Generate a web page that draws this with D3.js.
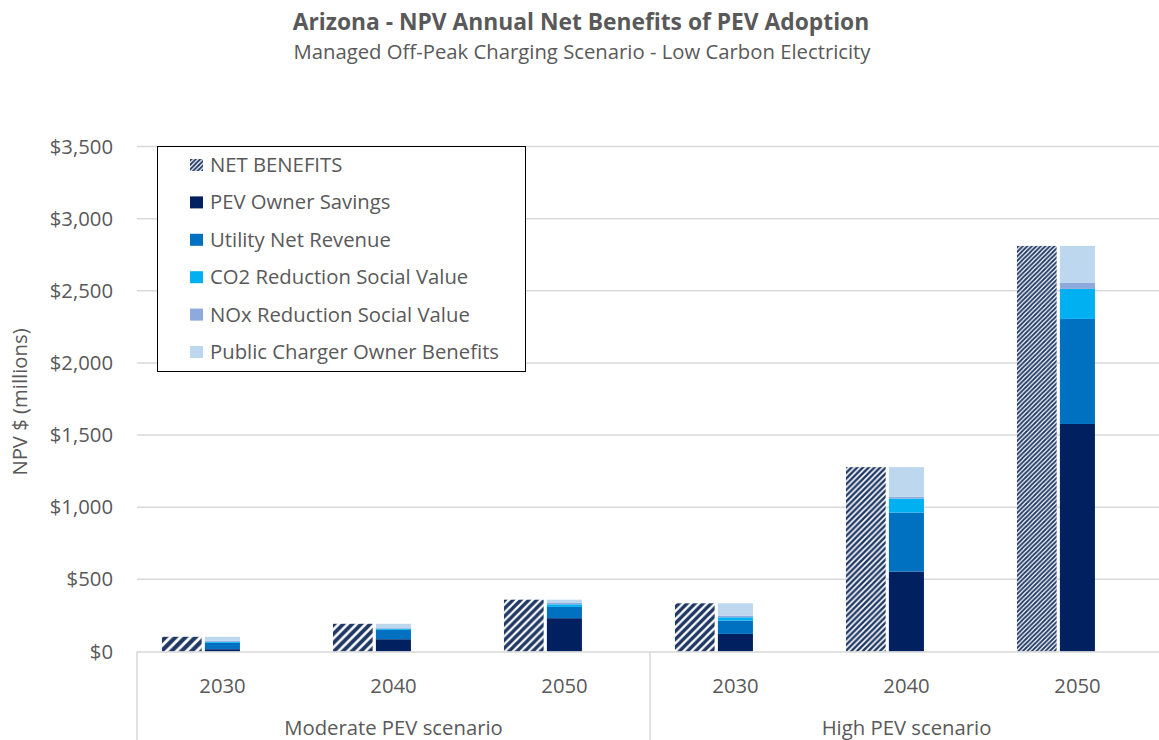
<!DOCTYPE html>
<html>
<head>
<meta charset="utf-8">
<script src="https://cdn.jsdelivr.net/npm/d3@7"></script>
<style>
  body { margin: 0; background: #fff; }
  svg { display: block; font-family: "Open Sans", Lato, sans-serif; }
</style>
</head>
<body>
<svg id="chart" width="1159" height="740"></svg>
<script>
// values (millions of $)
const years = ['2030', '2040', '2050', '2030', '2040', '2050'];
const scenarios = ['Moderate PEV scenario', 'High PEV scenario'];
const netBenefits = [102, 192, 359, 334, 1278, 2811];
const pevOwnerSavings = [16, 85, 231, 122, 554, 1577];
const utilityNetRevenue = [44, 65, 78, 92, 409, 728];
const co2Value = [7, 7, 18, 23, 97, 208];
const noxValue = [7, 5, 9, 12, 12, 44];
const publicCharger = [28, 30, 23, 85, 206, 254];
const yTicks = [0, 500, 1000, 1500, 2000, 2500, 3000, 3500];

const series = [
  { name: 'PEV Owner Savings', values: pevOwnerSavings, color: '#002060' },
  { name: 'Utility Net Revenue', values: utilityNetRevenue, color: '#0070C0' },
  { name: 'CO2 Reduction Social Value', values: co2Value, color: '#00B0F0' },
  { name: 'NOx Reduction Social Value', values: noxValue, color: '#8EA9DB' },
  { name: 'Public Charger Owner Benefits', values: publicCharger, color: '#BDD7EE' }
];

const svg = d3.select('#chart');
const textColor = '#595959';
const gridColor = '#D9D9D9';
const hatchColor = '#1F3864';
const fs = 20.3;
const plotLeft = 137, plotRight = 1163, plotTop = 146.5, baseline = 651.5;

const defs = svg.append('defs');
// diagonal hatch; the reference texture gets finer as the bar gets taller
function addHatch (id, p) {
  const pat = defs.append('pattern')
    .attr('id', id)
    .attr('patternUnits', 'userSpaceOnUse')
    .attr('width', p).attr('height', p);
  pat.append('rect').attr('width', p).attr('height', p).attr('fill', '#fff');
  pat.append('path')
    .attr('d', `M${-p / 4},${p / 4} L${p / 4},${-p / 4} M0,${p} L${p},0 M${p * 0.75},${p * 1.25} L${p * 1.25},${p * 0.75}`)
    .attr('stroke', hatchColor)
    .attr('stroke-width', p * 0.42);
  return `url(#${id})`;
}

// title
svg.append('text')
  .attr('x', 581).attr('y', 30)
  .attr('text-anchor', 'middle')
  .attr('font-size', 22.8).attr('font-weight', 'bold')
  .attr('fill', textColor)
  .text('Arizona - NPV Annual Net Benefits of PEV Adoption');
svg.append('text')
  .attr('x', 582).attr('y', 59)
  .attr('text-anchor', 'middle')
  .attr('font-size', fs)
  .attr('fill', textColor)
  .text('Managed Off-Peak Charging Scenario - Low Carbon Electricity');

const x = d3.scaleBand()
  .domain(d3.range(years.length))
  .range([plotLeft, plotRight])
  .padding(0);
const y = d3.scaleLinear()
  .domain([0, 3500])
  .range([baseline, plotTop]);

// gridlines
svg.append('g')
  .selectAll('line')
  .data(yTicks.slice(1))
  .join('line')
  .attr('x1', plotLeft).attr('x2', plotRight)
  .attr('y1', d => y(d)).attr('y2', d => y(d))
  .attr('stroke', gridColor).attr('stroke-width', 1.5);

// y axis labels
svg.append('g')
  .selectAll('text')
  .data(yTicks)
  .join('text')
  .attr('x', 113)
  .attr('y', d => y(d) + 7)
  .attr('text-anchor', 'end')
  .attr('font-size', fs)
  .attr('fill', textColor)
  .text(d => '$' + d3.format(',')(d));

svg.append('text')
  .attr('transform', `translate(27,${(plotTop + baseline) / 2 + 3}) rotate(-90)`)
  .attr('text-anchor', 'middle')
  .attr('font-size', fs)
  .attr('fill', textColor)
  .text('NPV $ (millions)');

const bw = x.bandwidth();

// net benefits hatched bars
svg.append('g')
  .selectAll('rect')
  .data(netBenefits)
  .join('rect')
  .attr('x', (d, i) => x(i) + bw * 0.146)
  .attr('width', bw * 0.232)
  .attr('y', d => y(d))
  .attr('height', d => baseline - y(d))
  .attr('fill', (d, i) => {
    const h = baseline - y(d);
    return addHatch('hatch' + i, Math.max(4.5, 10 - 1.7 * Math.log(h / 15)));
  });

// stacked components
const rows = years.map((yr, i) => {
  const r = { i };
  series.forEach(s => { r[s.name] = s.values[i]; });
  return r;
});
const stack = d3.stack().keys(series.map(s => s.name))(rows);
svg.append('g')
  .selectAll('g')
  .data(stack)
  .join('g')
  .attr('fill', (d, k) => series[k].color)
  .selectAll('rect')
  .data(d => d)
  .join('rect')
  .attr('x', d => x(d.data.i) + bw * 0.397)
  .attr('width', bw * 0.205)
  .attr('y', d => y(d[1]))
  .attr('height', d => y(d[0]) - y(d[1]));

// category axis
svg.append('line')
  .attr('x1', plotLeft).attr('x2', plotRight)
  .attr('y1', baseline + 0.5).attr('y2', baseline + 0.5)
  .attr('stroke', gridColor).attr('stroke-width', 1.5);
svg.append('g')
  .selectAll('line')
  .data([0, 3, 6])
  .join('line')
  .attr('x1', d => d < 6 ? x(d) : plotRight).attr('x2', d => d < 6 ? x(d) : plotRight)
  .attr('y1', baseline).attr('y2', 740)
  .attr('stroke', gridColor).attr('stroke-width', 1.5);

svg.append('g')
  .selectAll('text')
  .data(years)
  .join('text')
  .attr('x', (d, i) => x(i) + bw / 2)
  .attr('y', 693)
  .attr('text-anchor', 'middle')
  .attr('font-size', fs)
  .attr('fill', textColor)
  .text(d => d);

svg.append('g')
  .selectAll('text')
  .data(scenarios)
  .join('text')
  .attr('x', (d, i) => x(i * 3) + bw * 1.5)
  .attr('y', 735)
  .attr('text-anchor', 'middle')
  .attr('font-size', fs)
  .attr('fill', textColor)
  .text(d => d);

// legend
const legendItems = [{ name: 'NET BENEFITS', color: addHatch('hatchLegend', 4.5) }].concat(series);
const lg = svg.append('g');
lg.append('rect')
  .attr('x', 157.5).attr('y', 146.5)
  .attr('width', 368).attr('height', 225)
  .attr('fill', '#fff')
  .attr('stroke', '#000').attr('stroke-width', 1);
const li = lg.selectAll('g')
  .data(legendItems)
  .join('g')
  .attr('transform', (d, i) => `translate(190,${165 + i * 37.4})`);
li.append('rect')
  .attr('x', 0).attr('y', -6)
  .attr('width', 13).attr('height', 12)
  .attr('fill', d => d.color);
li.append('text')
  .attr('x', 20).attr('y', 7)
  .attr('font-size', fs)
  .attr('fill', textColor)
  .text(d => d.name);
</script>
</body>
</html>
